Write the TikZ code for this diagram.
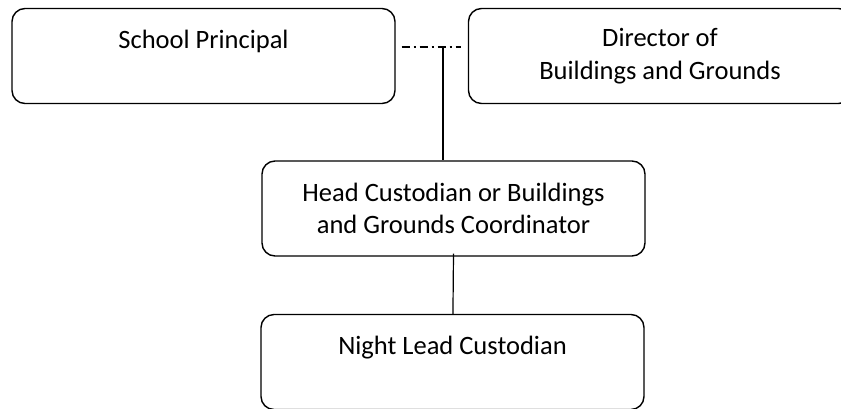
\documentclass[tikz,border=0pt]{standalone}
\usepackage{fontspec}
\setmainfont{Carlito}
\usepackage{tikz}
\usetikzlibrary{positioning}
\tikzset{my_chart/.style={x=1pt,y=-1pt,line width=1.2pt}}
\tikzset{my_box/.style={draw, line width=1.4pt, rounded corners=13pt, minimum width=383pt, minimum height=95pt, align=center, font=\fontsize{26.5}{32.5}\selectfont}}
\tikzset{my_single_box/.style={my_box, text height=19pt, text depth=35pt}}
\tikzset{my_link/.style={dash pattern=on 8pt off 4pt on 2pt off 4pt}}

\begin{document}
\begin{tikzpicture}[my_chart]
    \clip (0,0) rectangle (841,408);
    %\draw[help lines] (0,0) grid[step=50] (841,408);
    \node[my_single_box] (principal) at (203.5,56) {School Principal};
    \node[my_box] (director) at (660,56) {Director of\\Buildings and Grounds};
    \node[my_box] (head) at (453.5,208.5) {Head Custodian or Buildings\\and Grounds Coordinator};
    \node[my_single_box] (night) at (452.5,362) {Night Lead Custodian};

    \coordinate (link) at (443,47);
    \draw[my_link] ([xshift=6pt]principal.east |- link) -- ([xshift=-7pt]director.west |- link);
    \draw (link) -- (link |- head.north);
    \draw ([yshift=3pt]head.south) -- (night);
\end{tikzpicture}
\end{document}
